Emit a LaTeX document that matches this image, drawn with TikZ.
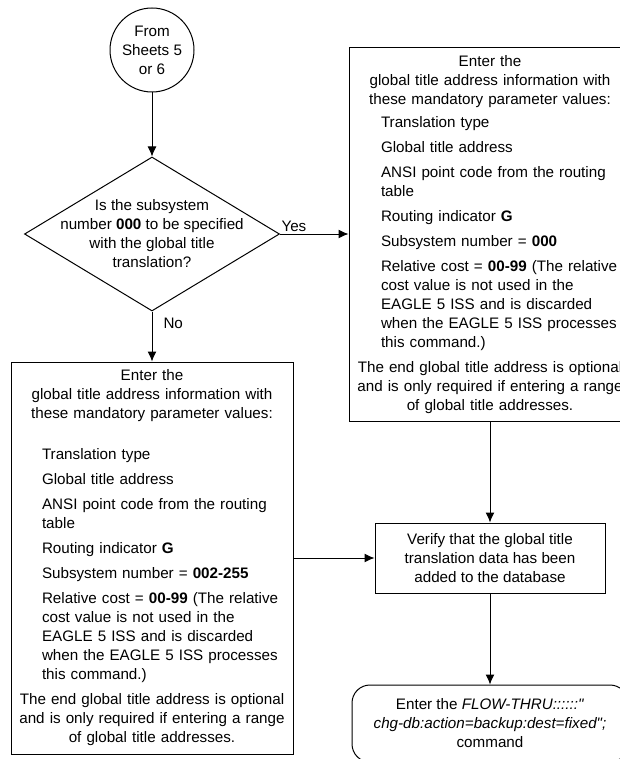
\documentclass[tikz,border=0pt]{standalone}
\usepackage{fontspec}
\setmainfont{Liberation Sans}[Ligatures=TeXOff]
\usetikzlibrary{arrows.meta}
\usetikzlibrary{shapes.geometric}
\usetikzlibrary{positioning}

\tikzset{
  base/.style={font=\fontsize{15.2}{19}\selectfont, inner sep=0pt},
  startcirc/.style={base, draw, circle, minimum size=84pt, align=center},
  decision/.style={draw, diamond, minimum width=255pt, minimum height=154pt, inner sep=0pt},
  parmbox/.style={base, draw, rectangle, minimum width=282pt, text width=270pt},
  procbox/.style={base, draw, rectangle, minimum width=230pt, minimum height=70pt, align=center},
  cmdbox/.style={base, draw, rectangle, rounded corners=18pt, minimum width=276pt, minimum height=77pt, align=center},
  flow/.style={-{Latex[length=10pt,width=9pt]}},
}

\begin{document}
\begin{tikzpicture}[x=1pt, y=-1pt, line width=1pt]
\useasboundingbox (0,0) rectangle (620,759);

\node[startcirc] (fromSheets) at (152,50) {From\\Sheets 5\\or 6};

\node[decision] (ssnQ) at (152,234) {};
\node[base, align=center] (ssnQText) at (ssnQ) {Is the subsystem\\number \textbf{000} to be specified\\with the global title\\translation?};

% ssn = 000
\node[parmbox, minimum height=373pt] (gtaZero) at (490,234.5) {\parindent=0pt\parskip=6pt
  {\centering Enter the\\global title address information with\\these mandatory parameter values:\par}
  \vspace{-2pt}
  {\raggedright\leftskip=26pt
  Translation type\par
  Global title address\par
  ANSI point code from the routing\\table\par
  Routing indicator \textbf{G}\par
  Subsystem number = \textbf{000}\par
  Relative cost = \textbf{00-99} (The relative\\cost value is not used in the\\EAGLE 5 ISS and is discarded\\when the EAGLE 5 ISS processes\\this command.)\par}
  {\centering The end global title address is optional\\and is only required if entering a range\\of global title addresses.\par}
};

% ssn = 002-255
\node[parmbox, minimum height=392pt] (gtaRange) at (152,558) {\parindent=0pt\parskip=6pt
  {\centering Enter the\\global title address information with\\these mandatory parameter values:\par}
  \vspace{16pt}
  {\raggedright\leftskip=25pt
  Translation type\par
  Global title address\par
  ANSI point code from the routing\\table\par
  Routing indicator \textbf{G}\par
  Subsystem number = \textbf{002-255}\par
  Relative cost = \textbf{00-99} (The relative\\cost value is not used in the\\EAGLE 5 ISS and is discarded\\when the EAGLE 5 ISS processes\\this command.)\par}
  {\centering The end global title address is optional\\and is only required if entering a range\\of global title addresses.\par}
};

\node[procbox] (verifyAdd) at (490,558) {Verify that the global title\\translation data has been\\added to the database};

\node[cmdbox] (backupCmd) at (490,723.5) {Enter the \textit{FLOW-THRU::::::"}\\\textit{chg-db:action=backup:dest=fixed";}\\command};

\draw[flow] (fromSheets) -- (ssnQ);
\draw[flow] (ssnQ.east) -- node[base, pos=0, anchor=south west, xshift=1pt, yshift=2pt] (yesLbl) {Yes} (gtaZero.west |- ssnQ.east);
\draw[flow] (ssnQ.south) -- node[base, pos=0.24, anchor=west, xshift=11pt] (noLbl) {No} (gtaRange.north);
\draw[flow] (gtaRange) -- (verifyAdd);
\draw[flow] (gtaZero) -- (verifyAdd);
\draw[flow] (verifyAdd) -- (backupCmd);

\end{tikzpicture}
\end{document}
